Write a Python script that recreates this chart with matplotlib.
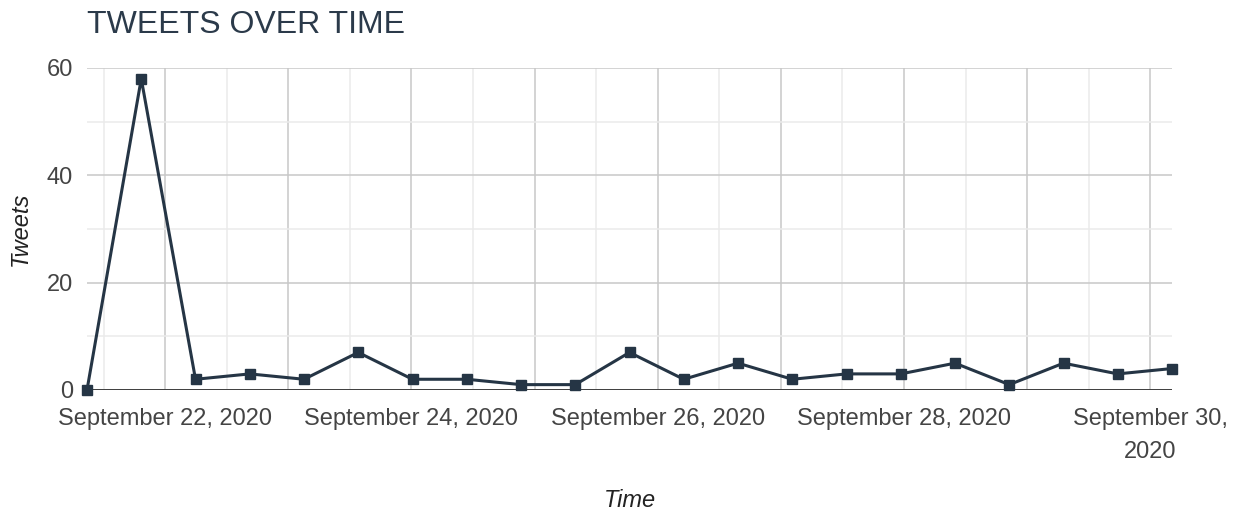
#!/usr/bin/env python3
# -*- coding: utf-8 -*-
"""Tweets over time line chart"""

import pandas as pd
import matplotlib
matplotlib.use("Agg")
import matplotlib.pyplot as plt
import matplotlib.dates as mdates
from matplotlib.ticker import MultipleLocator

# data
times = pd.date_range("2020-09-21 08:45", "2020-09-30 04:15", periods=21)
tweets = [0, 58, 2, 3, 2, 7, 2, 2, 1, 1, 7, 2, 5, 2, 3, 3, 5, 1, 5, 3, 4]
label_days = ["2020-09-22", "2020-09-24", "2020-09-26", "2020-09-28", "2020-09-30"]
label_texts = ["September 22, 2020", "September 24, 2020", "September 26, 2020",
               "September 28, 2020", "September 30,\n2020"]
y_ticks = [0, 20, 40, 60]

plt.rcParams['font.family'] = ['Liberation Sans', 'DejaVu Sans']

W, H = 1246, 516
fig = plt.figure(figsize=(W / 100, H / 100), dpi=100)
ax = fig.add_axes([87 / W, 1 - 390 / H, (1172 - 87) / W, (390 - 68) / H])

line_color = '#253545'
ax.plot(times, tweets, color=line_color, lw=2.2, marker='s', markersize=6.5,
        clip_on=False, zorder=4)

# axes / grid
ax.set_xlim(times[0], times[-1])
ax.set_ylim(0, 60)
for s in ax.spines.values():
    s.set_visible(False)
ax.axhline(0, color='#333333', lw=1.3, zorder=3)

days = pd.date_range("2020-09-22", "2020-09-30", freq="D")
lab_map = dict(zip(pd.to_datetime(label_days), label_texts))
ax.set_xticks(days, [lab_map.get(d, "") for d in days])
for t in ax.get_xticklabels():
    t.set_linespacing(1.65)
ax.xaxis.set_minor_locator(mdates.HourLocator(byhour=[12]))
ax.set_yticks(y_ticks)
ax.yaxis.set_minor_locator(MultipleLocator(10))

ax.grid(which='major', color='#c8c8c8', lw=1.1, zorder=0)
ax.grid(which='minor', color='#ebebeb', lw=1.1, zorder=0)
ax.set_axisbelow(True)

ax.tick_params(which='both', length=0)
ax.tick_params(axis='x', pad=13, labelsize=17, labelcolor='#444444')
ax.tick_params(axis='y', pad=10, labelsize=17, labelcolor='#444444')

# axis titles
ax.text(-0.0618, 0.5, 'Tweets', transform=ax.transAxes, rotation=90,
        fontsize=17, style='italic', color='#222222', ha='center', va='center')
ax.text(0.5, -0.342, 'Time', transform=ax.transAxes,
        fontsize=17, style='italic', color='#222222', ha='center', va='center')

fig.text(87 / W, 1 - 33 / H, 'TWEETS OVER TIME', fontsize=23,
         color='#2b3a4a', ha='left', va='baseline')

fig.savefig('out.png', dpi=100)
